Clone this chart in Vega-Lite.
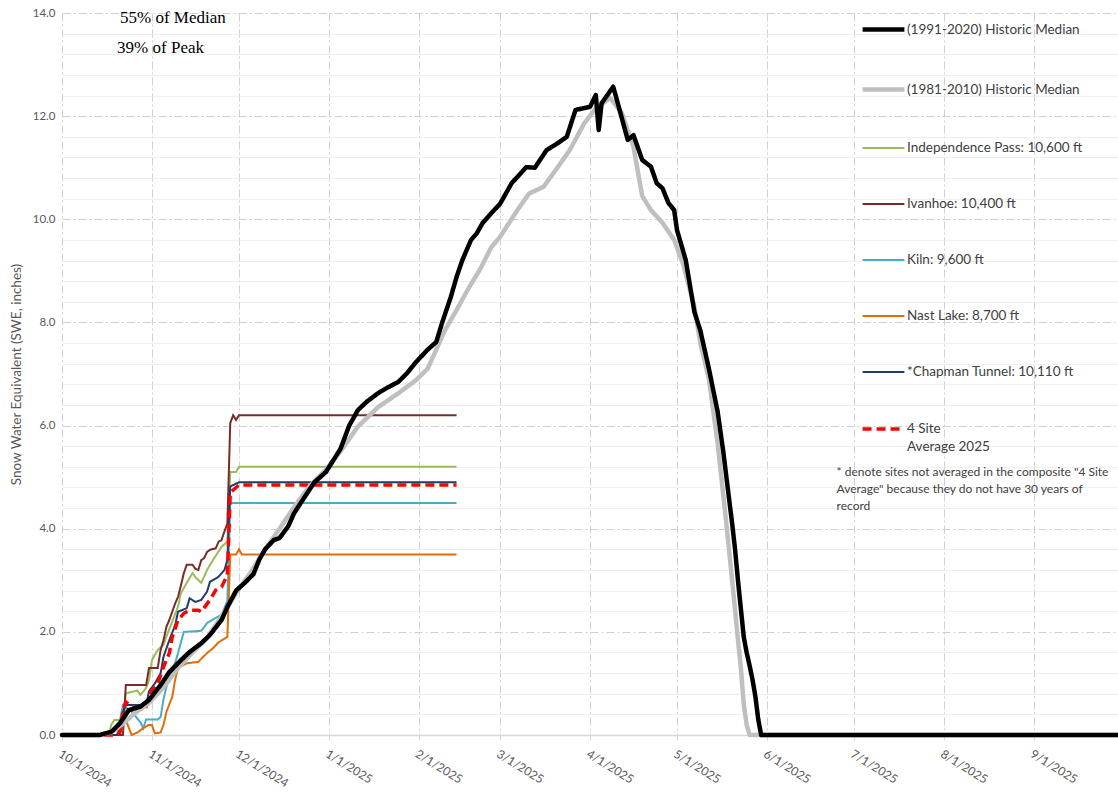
{
  "$schema": "https://vega.github.io/schema/vega-lite/v6.json",
  "width": 1056,
  "height": 722,
  "autosize": {"type": "none"},
  "padding": {"left": 62, "top": 13, "right": 0, "bottom": 58},
  "background": "white",
  "config": {"view": {"stroke": null}, "font": "Lato"},
  "datasets": {
    "swe": [
      {"series": "(1991-2020) Historic Median", "date": "2024-10-01", "swe": 0},
      {"series": "(1991-2020) Historic Median", "date": "2024-10-14", "swe": 0},
      {"series": "(1991-2020) Historic Median", "date": "2024-10-18", "swe": 0.06},
      {"series": "(1991-2020) Historic Median", "date": "2024-10-21", "swe": 0.23},
      {"series": "(1991-2020) Historic Median", "date": "2024-10-24", "swe": 0.48},
      {"series": "(1991-2020) Historic Median", "date": "2024-10-28", "swe": 0.55},
      {"series": "(1991-2020) Historic Median", "date": "2024-10-31", "swe": 0.68},
      {"series": "(1991-2020) Historic Median", "date": "2024-11-04", "swe": 0.97},
      {"series": "(1991-2020) Historic Median", "date": "2024-11-07", "swe": 1.22},
      {"series": "(1991-2020) Historic Median", "date": "2024-11-11", "swe": 1.45},
      {"series": "(1991-2020) Historic Median", "date": "2024-11-14", "swe": 1.61},
      {"series": "(1991-2020) Historic Median", "date": "2024-11-18", "swe": 1.78},
      {"series": "(1991-2020) Historic Median", "date": "2024-11-21", "swe": 1.94},
      {"series": "(1991-2020) Historic Median", "date": "2024-11-25", "swe": 2.23},
      {"series": "(1991-2020) Historic Median", "date": "2024-11-27", "swe": 2.48},
      {"series": "(1991-2020) Historic Median", "date": "2024-11-30", "swe": 2.8},
      {"series": "(1991-2020) Historic Median", "date": "2024-12-03", "swe": 2.95},
      {"series": "(1991-2020) Historic Median", "date": "2024-12-06", "swe": 3.12},
      {"series": "(1991-2020) Historic Median", "date": "2024-12-08", "swe": 3.4},
      {"series": "(1991-2020) Historic Median", "date": "2024-12-10", "swe": 3.6},
      {"series": "(1991-2020) Historic Median", "date": "2024-12-13", "swe": 3.78},
      {"series": "(1991-2020) Historic Median", "date": "2024-12-15", "swe": 3.82},
      {"series": "(1991-2020) Historic Median", "date": "2024-12-18", "swe": 4.05},
      {"series": "(1991-2020) Historic Median", "date": "2024-12-20", "swe": 4.3},
      {"series": "(1991-2020) Historic Median", "date": "2024-12-23", "swe": 4.56},
      {"series": "(1991-2020) Historic Median", "date": "2024-12-27", "swe": 4.9},
      {"series": "(1991-2020) Historic Median", "date": "2024-12-31", "swe": 5.1},
      {"series": "(1991-2020) Historic Median", "date": "2025-01-05", "swe": 5.55},
      {"series": "(1991-2020) Historic Median", "date": "2025-01-08", "swe": 6.0},
      {"series": "(1991-2020) Historic Median", "date": "2025-01-11", "swe": 6.3},
      {"series": "(1991-2020) Historic Median", "date": "2025-01-14", "swe": 6.46},
      {"series": "(1991-2020) Historic Median", "date": "2025-01-18", "swe": 6.63},
      {"series": "(1991-2020) Historic Median", "date": "2025-01-21", "swe": 6.73},
      {"series": "(1991-2020) Historic Median", "date": "2025-01-25", "swe": 6.85},
      {"series": "(1991-2020) Historic Median", "date": "2025-01-28", "swe": 7.02},
      {"series": "(1991-2020) Historic Median", "date": "2025-01-31", "swe": 7.23},
      {"series": "(1991-2020) Historic Median", "date": "2025-02-04", "swe": 7.47},
      {"series": "(1991-2020) Historic Median", "date": "2025-02-07", "swe": 7.62},
      {"series": "(1991-2020) Historic Median", "date": "2025-02-09", "swe": 7.99},
      {"series": "(1991-2020) Historic Median", "date": "2025-02-12", "swe": 8.49},
      {"series": "(1991-2020) Historic Median", "date": "2025-02-14", "swe": 8.88},
      {"series": "(1991-2020) Historic Median", "date": "2025-02-16", "swe": 9.21},
      {"series": "(1991-2020) Historic Median", "date": "2025-02-19", "swe": 9.6},
      {"series": "(1991-2020) Historic Median", "date": "2025-02-21", "swe": 9.73},
      {"series": "(1991-2020) Historic Median", "date": "2025-02-23", "swe": 9.93},
      {"series": "(1991-2020) Historic Median", "date": "2025-02-26", "swe": 10.12},
      {"series": "(1991-2020) Historic Median", "date": "2025-03-01", "swe": 10.3},
      {"series": "(1991-2020) Historic Median", "date": "2025-03-05", "swe": 10.7},
      {"series": "(1991-2020) Historic Median", "date": "2025-03-10", "swe": 11.01},
      {"series": "(1991-2020) Historic Median", "date": "2025-03-13", "swe": 11.0},
      {"series": "(1991-2020) Historic Median", "date": "2025-03-17", "swe": 11.34},
      {"series": "(1991-2020) Historic Median", "date": "2025-03-21", "swe": 11.48},
      {"series": "(1991-2020) Historic Median", "date": "2025-03-24", "swe": 11.6},
      {"series": "(1991-2020) Historic Median", "date": "2025-03-27", "swe": 12.12},
      {"series": "(1991-2020) Historic Median", "date": "2025-04-01", "swe": 12.18},
      {"series": "(1991-2020) Historic Median", "date": "2025-04-03", "swe": 12.41},
      {"series": "(1991-2020) Historic Median", "date": "2025-04-04", "swe": 11.73},
      {"series": "(1991-2020) Historic Median", "date": "2025-04-05", "swe": 12.25},
      {"series": "(1991-2020) Historic Median", "date": "2025-04-09", "swe": 12.57},
      {"series": "(1991-2020) Historic Median", "date": "2025-04-10", "swe": 12.37},
      {"series": "(1991-2020) Historic Median", "date": "2025-04-14", "swe": 11.54},
      {"series": "(1991-2020) Historic Median", "date": "2025-04-16", "swe": 11.63},
      {"series": "(1991-2020) Historic Median", "date": "2025-04-19", "swe": 11.15},
      {"series": "(1991-2020) Historic Median", "date": "2025-04-22", "swe": 11.02},
      {"series": "(1991-2020) Historic Median", "date": "2025-04-24", "swe": 10.7},
      {"series": "(1991-2020) Historic Median", "date": "2025-04-26", "swe": 10.6},
      {"series": "(1991-2020) Historic Median", "date": "2025-04-28", "swe": 10.32},
      {"series": "(1991-2020) Historic Median", "date": "2025-04-30", "swe": 10.18},
      {"series": "(1991-2020) Historic Median", "date": "2025-05-01", "swe": 9.79},
      {"series": "(1991-2020) Historic Median", "date": "2025-05-04", "swe": 9.21},
      {"series": "(1991-2020) Historic Median", "date": "2025-05-07", "swe": 8.2},
      {"series": "(1991-2020) Historic Median", "date": "2025-05-09", "swe": 7.85},
      {"series": "(1991-2020) Historic Median", "date": "2025-05-12", "swe": 7.1},
      {"series": "(1991-2020) Historic Median", "date": "2025-05-15", "swe": 6.27},
      {"series": "(1991-2020) Historic Median", "date": "2025-05-17", "swe": 5.47},
      {"series": "(1991-2020) Historic Median", "date": "2025-05-19", "swe": 4.55},
      {"series": "(1991-2020) Historic Median", "date": "2025-05-20", "swe": 4.1},
      {"series": "(1991-2020) Historic Median", "date": "2025-05-21", "swe": 3.6},
      {"series": "(1991-2020) Historic Median", "date": "2025-05-22", "swe": 3.0},
      {"series": "(1991-2020) Historic Median", "date": "2025-05-23", "swe": 2.45},
      {"series": "(1991-2020) Historic Median", "date": "2025-05-24", "swe": 1.9},
      {"series": "(1991-2020) Historic Median", "date": "2025-05-25", "swe": 1.6},
      {"series": "(1991-2020) Historic Median", "date": "2025-05-26", "swe": 1.35},
      {"series": "(1991-2020) Historic Median", "date": "2025-05-27", "swe": 1.08},
      {"series": "(1991-2020) Historic Median", "date": "2025-05-28", "swe": 0.75},
      {"series": "(1991-2020) Historic Median", "date": "2025-05-29", "swe": 0.3},
      {"series": "(1991-2020) Historic Median", "date": "2025-05-30", "swe": 0},
      {"series": "(1991-2020) Historic Median", "date": "2025-09-30", "swe": 0},

      {"series": "(1981-2010) Historic Median", "date": "2024-10-01", "swe": 0},
      {"series": "(1981-2010) Historic Median", "date": "2024-10-14", "swe": 0},
      {"series": "(1981-2010) Historic Median", "date": "2024-10-18", "swe": 0.05},
      {"series": "(1981-2010) Historic Median", "date": "2024-10-22", "swe": 0.22},
      {"series": "(1981-2010) Historic Median", "date": "2024-10-26", "swe": 0.42},
      {"series": "(1981-2010) Historic Median", "date": "2024-10-31", "swe": 0.62},
      {"series": "(1981-2010) Historic Median", "date": "2024-11-05", "swe": 0.92},
      {"series": "(1981-2010) Historic Median", "date": "2024-11-10", "swe": 1.3},
      {"series": "(1981-2010) Historic Median", "date": "2024-11-15", "swe": 1.6},
      {"series": "(1981-2010) Historic Median", "date": "2024-11-20", "swe": 1.88},
      {"series": "(1981-2010) Historic Median", "date": "2024-11-25", "swe": 2.3},
      {"series": "(1981-2010) Historic Median", "date": "2024-11-30", "swe": 2.75},
      {"series": "(1981-2010) Historic Median", "date": "2024-12-05", "swe": 3.15},
      {"series": "(1981-2010) Historic Median", "date": "2024-12-10", "swe": 3.6},
      {"series": "(1981-2010) Historic Median", "date": "2024-12-15", "swe": 4.0},
      {"series": "(1981-2010) Historic Median", "date": "2024-12-20", "swe": 4.42},
      {"series": "(1981-2010) Historic Median", "date": "2024-12-25", "swe": 4.8},
      {"series": "(1981-2010) Historic Median", "date": "2024-12-31", "swe": 5.15},
      {"series": "(1981-2010) Historic Median", "date": "2025-01-05", "swe": 5.5},
      {"series": "(1981-2010) Historic Median", "date": "2025-01-11", "swe": 5.98},
      {"series": "(1981-2010) Historic Median", "date": "2025-01-18", "swe": 6.36},
      {"series": "(1981-2010) Historic Median", "date": "2025-01-25", "swe": 6.63},
      {"series": "(1981-2010) Historic Median", "date": "2025-01-31", "swe": 6.88},
      {"series": "(1981-2010) Historic Median", "date": "2025-02-04", "swe": 7.1},
      {"series": "(1981-2010) Historic Median", "date": "2025-02-07", "swe": 7.47},
      {"series": "(1981-2010) Historic Median", "date": "2025-02-10", "swe": 7.85},
      {"series": "(1981-2010) Historic Median", "date": "2025-02-14", "swe": 8.24},
      {"series": "(1981-2010) Historic Median", "date": "2025-02-18", "swe": 8.65},
      {"series": "(1981-2010) Historic Median", "date": "2025-02-22", "swe": 9.02},
      {"series": "(1981-2010) Historic Median", "date": "2025-02-26", "swe": 9.46},
      {"series": "(1981-2010) Historic Median", "date": "2025-03-01", "swe": 9.66},
      {"series": "(1981-2010) Historic Median", "date": "2025-03-07", "swe": 10.18},
      {"series": "(1981-2010) Historic Median", "date": "2025-03-11", "swe": 10.5},
      {"series": "(1981-2010) Historic Median", "date": "2025-03-16", "swe": 10.63},
      {"series": "(1981-2010) Historic Median", "date": "2025-03-21", "swe": 11.02},
      {"series": "(1981-2010) Historic Median", "date": "2025-03-25", "swe": 11.34},
      {"series": "(1981-2010) Historic Median", "date": "2025-03-30", "swe": 11.86},
      {"series": "(1981-2010) Historic Median", "date": "2025-04-03", "swe": 12.15},
      {"series": "(1981-2010) Historic Median", "date": "2025-04-08", "swe": 12.35},
      {"series": "(1981-2010) Historic Median", "date": "2025-04-12", "swe": 12.06},
      {"series": "(1981-2010) Historic Median", "date": "2025-04-16", "swe": 11.4},
      {"series": "(1981-2010) Historic Median", "date": "2025-04-19", "swe": 10.45},
      {"series": "(1981-2010) Historic Median", "date": "2025-04-22", "swe": 10.18},
      {"series": "(1981-2010) Historic Median", "date": "2025-04-26", "swe": 9.93},
      {"series": "(1981-2010) Historic Median", "date": "2025-04-30", "swe": 9.6},
      {"series": "(1981-2010) Historic Median", "date": "2025-05-03", "swe": 9.15},
      {"series": "(1981-2010) Historic Median", "date": "2025-05-07", "swe": 8.3},
      {"series": "(1981-2010) Historic Median", "date": "2025-05-09", "swe": 7.6},
      {"series": "(1981-2010) Historic Median", "date": "2025-05-12", "swe": 6.9},
      {"series": "(1981-2010) Historic Median", "date": "2025-05-15", "swe": 5.65},
      {"series": "(1981-2010) Historic Median", "date": "2025-05-18", "swe": 4.1},
      {"series": "(1981-2010) Historic Median", "date": "2025-05-20", "swe": 3.0},
      {"series": "(1981-2010) Historic Median", "date": "2025-05-22", "swe": 1.85},
      {"series": "(1981-2010) Historic Median", "date": "2025-05-23", "swe": 1.3},
      {"series": "(1981-2010) Historic Median", "date": "2025-05-24", "swe": 0.6},
      {"series": "(1981-2010) Historic Median", "date": "2025-05-25", "swe": 0.2},
      {"series": "(1981-2010) Historic Median", "date": "2025-05-26", "swe": 0},
      {"series": "(1981-2010) Historic Median", "date": "2025-09-30", "swe": 0},

      {"series": "Independence Pass: 10,600 ft", "date": "2024-10-01", "swe": 0},
      {"series": "Independence Pass: 10,600 ft", "date": "2024-10-17", "swe": 0},
      {"series": "Independence Pass: 10,600 ft", "date": "2024-10-18", "swe": 0.2},
      {"series": "Independence Pass: 10,600 ft", "date": "2024-10-19", "swe": 0.29},
      {"series": "Independence Pass: 10,600 ft", "date": "2024-10-21", "swe": 0.29},
      {"series": "Independence Pass: 10,600 ft", "date": "2024-10-22", "swe": 0.2},
      {"series": "Independence Pass: 10,600 ft", "date": "2024-10-23", "swe": 0.81},
      {"series": "Independence Pass: 10,600 ft", "date": "2024-10-27", "swe": 0.86},
      {"series": "Independence Pass: 10,600 ft", "date": "2024-10-28", "swe": 0.78},
      {"series": "Independence Pass: 10,600 ft", "date": "2024-10-30", "swe": 0.91},
      {"series": "Independence Pass: 10,600 ft", "date": "2024-10-31", "swe": 1.07},
      {"series": "Independence Pass: 10,600 ft", "date": "2024-11-01", "swe": 1.45},
      {"series": "Independence Pass: 10,600 ft", "date": "2024-11-03", "swe": 1.65},
      {"series": "Independence Pass: 10,600 ft", "date": "2024-11-05", "swe": 1.75},
      {"series": "Independence Pass: 10,600 ft", "date": "2024-11-06", "swe": 1.91},
      {"series": "Independence Pass: 10,600 ft", "date": "2024-11-08", "swe": 2.2},
      {"series": "Independence Pass: 10,600 ft", "date": "2024-11-10", "swe": 2.49},
      {"series": "Independence Pass: 10,600 ft", "date": "2024-11-11", "swe": 2.75},
      {"series": "Independence Pass: 10,600 ft", "date": "2024-11-13", "swe": 2.95},
      {"series": "Independence Pass: 10,600 ft", "date": "2024-11-15", "swe": 3.14},
      {"series": "Independence Pass: 10,600 ft", "date": "2024-11-16", "swe": 3.06},
      {"series": "Independence Pass: 10,600 ft", "date": "2024-11-18", "swe": 2.95},
      {"series": "Independence Pass: 10,600 ft", "date": "2024-11-20", "swe": 3.2},
      {"series": "Independence Pass: 10,600 ft", "date": "2024-11-22", "swe": 3.39},
      {"series": "Independence Pass: 10,600 ft", "date": "2024-11-25", "swe": 3.65},
      {"series": "Independence Pass: 10,600 ft", "date": "2024-11-27", "swe": 3.75},
      {"series": "Independence Pass: 10,600 ft", "date": "2024-11-28", "swe": 5.1},
      {"series": "Independence Pass: 10,600 ft", "date": "2024-11-30", "swe": 5.1},
      {"series": "Independence Pass: 10,600 ft", "date": "2024-12-01", "swe": 5.2},
      {"series": "Independence Pass: 10,600 ft", "date": "2025-02-14", "swe": 5.2},

      {"series": "Ivanhoe: 10,400 ft", "date": "2024-10-01", "swe": 0},
      {"series": "Ivanhoe: 10,400 ft", "date": "2024-10-22", "swe": 0},
      {"series": "Ivanhoe: 10,400 ft", "date": "2024-10-23", "swe": 0.97},
      {"series": "Ivanhoe: 10,400 ft", "date": "2024-10-30", "swe": 0.97},
      {"series": "Ivanhoe: 10,400 ft", "date": "2024-10-31", "swe": 1.3},
      {"series": "Ivanhoe: 10,400 ft", "date": "2024-11-03", "swe": 1.3},
      {"series": "Ivanhoe: 10,400 ft", "date": "2024-11-04", "swe": 1.65},
      {"series": "Ivanhoe: 10,400 ft", "date": "2024-11-05", "swe": 1.84},
      {"series": "Ivanhoe: 10,400 ft", "date": "2024-11-06", "swe": 2.1},
      {"series": "Ivanhoe: 10,400 ft", "date": "2024-11-07", "swe": 2.23},
      {"series": "Ivanhoe: 10,400 ft", "date": "2024-11-08", "swe": 2.39},
      {"series": "Ivanhoe: 10,400 ft", "date": "2024-11-09", "swe": 2.55},
      {"series": "Ivanhoe: 10,400 ft", "date": "2024-11-10", "swe": 2.68},
      {"series": "Ivanhoe: 10,400 ft", "date": "2024-11-11", "swe": 2.9},
      {"series": "Ivanhoe: 10,400 ft", "date": "2024-11-12", "swe": 3.14},
      {"series": "Ivanhoe: 10,400 ft", "date": "2024-11-13", "swe": 3.3},
      {"series": "Ivanhoe: 10,400 ft", "date": "2024-11-15", "swe": 3.3},
      {"series": "Ivanhoe: 10,400 ft", "date": "2024-11-16", "swe": 3.22},
      {"series": "Ivanhoe: 10,400 ft", "date": "2024-11-17", "swe": 3.2},
      {"series": "Ivanhoe: 10,400 ft", "date": "2024-11-18", "swe": 3.39},
      {"series": "Ivanhoe: 10,400 ft", "date": "2024-11-19", "swe": 3.43},
      {"series": "Ivanhoe: 10,400 ft", "date": "2024-11-20", "swe": 3.55},
      {"series": "Ivanhoe: 10,400 ft", "date": "2024-11-21", "swe": 3.59},
      {"series": "Ivanhoe: 10,400 ft", "date": "2024-11-23", "swe": 3.62},
      {"series": "Ivanhoe: 10,400 ft", "date": "2024-11-24", "swe": 3.75},
      {"series": "Ivanhoe: 10,400 ft", "date": "2024-11-25", "swe": 3.78},
      {"series": "Ivanhoe: 10,400 ft", "date": "2024-11-26", "swe": 3.95},
      {"series": "Ivanhoe: 10,400 ft", "date": "2024-11-27", "swe": 4.1},
      {"series": "Ivanhoe: 10,400 ft", "date": "2024-11-28", "swe": 6.05},
      {"series": "Ivanhoe: 10,400 ft", "date": "2024-11-29", "swe": 6.2},
      {"series": "Ivanhoe: 10,400 ft", "date": "2024-11-30", "swe": 6.11},
      {"series": "Ivanhoe: 10,400 ft", "date": "2024-12-01", "swe": 6.2},
      {"series": "Ivanhoe: 10,400 ft", "date": "2025-02-14", "swe": 6.2},

      {"series": "Kiln: 9,600 ft", "date": "2024-10-01", "swe": 0},
      {"series": "Kiln: 9,600 ft", "date": "2024-10-20", "swe": 0},
      {"series": "Kiln: 9,600 ft", "date": "2024-10-22", "swe": 0.58},
      {"series": "Kiln: 9,600 ft", "date": "2024-10-25", "swe": 0.45},
      {"series": "Kiln: 9,600 ft", "date": "2024-10-28", "swe": 0.25},
      {"series": "Kiln: 9,600 ft", "date": "2024-10-29", "swe": 0.13},
      {"series": "Kiln: 9,600 ft", "date": "2024-10-30", "swe": 0.3},
      {"series": "Kiln: 9,600 ft", "date": "2024-11-03", "swe": 0.3},
      {"series": "Kiln: 9,600 ft", "date": "2024-11-04", "swe": 0.35},
      {"series": "Kiln: 9,600 ft", "date": "2024-11-05", "swe": 0.7},
      {"series": "Kiln: 9,600 ft", "date": "2024-11-06", "swe": 0.93},
      {"series": "Kiln: 9,600 ft", "date": "2024-11-07", "swe": 1.16},
      {"series": "Kiln: 9,600 ft", "date": "2024-11-09", "swe": 1.4},
      {"series": "Kiln: 9,600 ft", "date": "2024-11-10", "swe": 1.59},
      {"series": "Kiln: 9,600 ft", "date": "2024-11-11", "swe": 1.8},
      {"series": "Kiln: 9,600 ft", "date": "2024-11-12", "swe": 2.0},
      {"series": "Kiln: 9,600 ft", "date": "2024-11-18", "swe": 2.02},
      {"series": "Kiln: 9,600 ft", "date": "2024-11-20", "swe": 2.17},
      {"series": "Kiln: 9,600 ft", "date": "2024-11-23", "swe": 2.27},
      {"series": "Kiln: 9,600 ft", "date": "2024-11-25", "swe": 2.33},
      {"series": "Kiln: 9,600 ft", "date": "2024-11-27", "swe": 2.6},
      {"series": "Kiln: 9,600 ft", "date": "2024-11-28", "swe": 4.5},
      {"series": "Kiln: 9,600 ft", "date": "2025-02-14", "swe": 4.5},

      {"series": "Nast Lake: 8,700 ft", "date": "2024-10-01", "swe": 0},
      {"series": "Nast Lake: 8,700 ft", "date": "2024-10-20", "swe": 0},
      {"series": "Nast Lake: 8,700 ft", "date": "2024-10-23", "swe": 0.29},
      {"series": "Nast Lake: 8,700 ft", "date": "2024-10-25", "swe": 0},
      {"series": "Nast Lake: 8,700 ft", "date": "2024-10-27", "swe": 0.05},
      {"series": "Nast Lake: 8,700 ft", "date": "2024-10-29", "swe": 0.13},
      {"series": "Nast Lake: 8,700 ft", "date": "2024-10-31", "swe": 0.2},
      {"series": "Nast Lake: 8,700 ft", "date": "2024-11-01", "swe": 0.19},
      {"series": "Nast Lake: 8,700 ft", "date": "2024-11-02", "swe": 0.03},
      {"series": "Nast Lake: 8,700 ft", "date": "2024-11-04", "swe": 0.05},
      {"series": "Nast Lake: 8,700 ft", "date": "2024-11-05", "swe": 0.2},
      {"series": "Nast Lake: 8,700 ft", "date": "2024-11-06", "swe": 0.45},
      {"series": "Nast Lake: 8,700 ft", "date": "2024-11-08", "swe": 0.74},
      {"series": "Nast Lake: 8,700 ft", "date": "2024-11-09", "swe": 1.07},
      {"series": "Nast Lake: 8,700 ft", "date": "2024-11-10", "swe": 1.3},
      {"series": "Nast Lake: 8,700 ft", "date": "2024-11-13", "swe": 1.39},
      {"series": "Nast Lake: 8,700 ft", "date": "2024-11-17", "swe": 1.42},
      {"series": "Nast Lake: 8,700 ft", "date": "2024-11-20", "swe": 1.59},
      {"series": "Nast Lake: 8,700 ft", "date": "2024-11-22", "swe": 1.68},
      {"series": "Nast Lake: 8,700 ft", "date": "2024-11-24", "swe": 1.8},
      {"series": "Nast Lake: 8,700 ft", "date": "2024-11-27", "swe": 1.9},
      {"series": "Nast Lake: 8,700 ft", "date": "2024-11-28", "swe": 3.5},
      {"series": "Nast Lake: 8,700 ft", "date": "2024-11-30", "swe": 3.5},
      {"series": "Nast Lake: 8,700 ft", "date": "2024-12-01", "swe": 3.6},
      {"series": "Nast Lake: 8,700 ft", "date": "2024-12-02", "swe": 3.5},
      {"series": "Nast Lake: 8,700 ft", "date": "2025-02-14", "swe": 3.5},

      {"series": "*Chapman Tunnel: 10,110 ft", "date": "2024-10-01", "swe": 0},
      {"series": "*Chapman Tunnel: 10,110 ft", "date": "2024-10-20", "swe": 0},
      {"series": "*Chapman Tunnel: 10,110 ft", "date": "2024-10-21", "swe": 0.1},
      {"series": "*Chapman Tunnel: 10,110 ft", "date": "2024-10-22", "swe": 0.45},
      {"series": "*Chapman Tunnel: 10,110 ft", "date": "2024-10-23", "swe": 0.58},
      {"series": "*Chapman Tunnel: 10,110 ft", "date": "2024-10-30", "swe": 0.58},
      {"series": "*Chapman Tunnel: 10,110 ft", "date": "2024-10-31", "swe": 0.85},
      {"series": "*Chapman Tunnel: 10,110 ft", "date": "2024-11-02", "swe": 1.0},
      {"series": "*Chapman Tunnel: 10,110 ft", "date": "2024-11-04", "swe": 1.2},
      {"series": "*Chapman Tunnel: 10,110 ft", "date": "2024-11-05", "swe": 1.52},
      {"series": "*Chapman Tunnel: 10,110 ft", "date": "2024-11-07", "swe": 1.84},
      {"series": "*Chapman Tunnel: 10,110 ft", "date": "2024-11-09", "swe": 2.13},
      {"series": "*Chapman Tunnel: 10,110 ft", "date": "2024-11-10", "swe": 2.39},
      {"series": "*Chapman Tunnel: 10,110 ft", "date": "2024-11-13", "swe": 2.46},
      {"series": "*Chapman Tunnel: 10,110 ft", "date": "2024-11-14", "swe": 2.65},
      {"series": "*Chapman Tunnel: 10,110 ft", "date": "2024-11-16", "swe": 2.58},
      {"series": "*Chapman Tunnel: 10,110 ft", "date": "2024-11-18", "swe": 2.62},
      {"series": "*Chapman Tunnel: 10,110 ft", "date": "2024-11-20", "swe": 2.78},
      {"series": "*Chapman Tunnel: 10,110 ft", "date": "2024-11-21", "swe": 2.97},
      {"series": "*Chapman Tunnel: 10,110 ft", "date": "2024-11-24", "swe": 3.07},
      {"series": "*Chapman Tunnel: 10,110 ft", "date": "2024-11-26", "swe": 3.2},
      {"series": "*Chapman Tunnel: 10,110 ft", "date": "2024-11-27", "swe": 3.39},
      {"series": "*Chapman Tunnel: 10,110 ft", "date": "2024-11-28", "swe": 4.82},
      {"series": "*Chapman Tunnel: 10,110 ft", "date": "2024-12-01", "swe": 4.9},
      {"series": "*Chapman Tunnel: 10,110 ft", "date": "2025-02-14", "swe": 4.9},

      {"series": "4 Site Average 2025", "date": "2024-10-01", "swe": 0},
      {"series": "4 Site Average 2025", "date": "2024-10-20", "swe": 0},
      {"series": "4 Site Average 2025", "date": "2024-10-21", "swe": 0.05},
      {"series": "4 Site Average 2025", "date": "2024-10-22", "swe": 0.45},
      {"series": "4 Site Average 2025", "date": "2024-10-23", "swe": 0.64},
      {"series": "4 Site Average 2025", "date": "2024-10-25", "swe": 0.55},
      {"series": "4 Site Average 2025", "date": "2024-10-28", "swe": 0.5},
      {"series": "4 Site Average 2025", "date": "2024-10-30", "swe": 0.55},
      {"series": "4 Site Average 2025", "date": "2024-10-31", "swe": 0.7},
      {"series": "4 Site Average 2025", "date": "2024-11-01", "swe": 0.87},
      {"series": "4 Site Average 2025", "date": "2024-11-03", "swe": 1.0},
      {"series": "4 Site Average 2025", "date": "2024-11-05", "swe": 1.32},
      {"series": "4 Site Average 2025", "date": "2024-11-07", "swe": 1.59},
      {"series": "4 Site Average 2025", "date": "2024-11-08", "swe": 1.9},
      {"series": "4 Site Average 2025", "date": "2024-11-10", "swe": 2.23},
      {"series": "4 Site Average 2025", "date": "2024-11-12", "swe": 2.36},
      {"series": "4 Site Average 2025", "date": "2024-11-14", "swe": 2.42},
      {"series": "4 Site Average 2025", "date": "2024-11-17", "swe": 2.42},
      {"series": "4 Site Average 2025", "date": "2024-11-18", "swe": 2.39},
      {"series": "4 Site Average 2025", "date": "2024-11-21", "swe": 2.62},
      {"series": "4 Site Average 2025", "date": "2024-11-23", "swe": 2.81},
      {"series": "4 Site Average 2025", "date": "2024-11-25", "swe": 2.87},
      {"series": "4 Site Average 2025", "date": "2024-11-27", "swe": 3.1},
      {"series": "4 Site Average 2025", "date": "2024-11-28", "swe": 4.7},
      {"series": "4 Site Average 2025", "date": "2024-11-30", "swe": 4.8},
      {"series": "4 Site Average 2025", "date": "2024-12-01", "swe": 4.85},
      {"series": "4 Site Average 2025", "date": "2025-02-14", "swe": 4.85}
    ],
    "notes": [
      {"kind": "pct", "date": "2024-10-21", "swe": 13.9, "label": "55% of Median"},
      {"kind": "pct", "date": "2024-10-20", "swe": 13.32, "label": "39%  of Peak"},
      {"kind": "foot", "date": "2025-06-25", "swe": 5.19, "label": "* denote sites not averaged in the composite \"4 Site|Average\" because they do not have 30 years of|record"}
    ]
  },
  "encoding": {
    "x": {
      "field": "date",
      "type": "temporal",
      "scale": {
        "type": "utc",
        "domain": [
          {"year": 2024, "month": 10, "date": 1, "utc": true},
          {"year": 2025, "month": 9, "date": 30, "utc": true}
        ],
        "nice": false
      },
      "axis": {
        "title": null,
        "values": [
          {"year": 2024, "month": 10, "date": 1, "utc": true},
          {"year": 2024, "month": 11, "date": 1, "utc": true},
          {"year": 2024, "month": 12, "date": 1, "utc": true},
          {"year": 2025, "month": 1, "date": 1, "utc": true},
          {"year": 2025, "month": 2, "date": 1, "utc": true},
          {"year": 2025, "month": 3, "date": 1, "utc": true},
          {"year": 2025, "month": 4, "date": 1, "utc": true},
          {"year": 2025, "month": 5, "date": 1, "utc": true},
          {"year": 2025, "month": 6, "date": 1, "utc": true},
          {"year": 2025, "month": 7, "date": 1, "utc": true},
          {"year": 2025, "month": 8, "date": 1, "utc": true},
          {"year": 2025, "month": 9, "date": 1, "utc": true}
        ],
        "format": "%-m/%-d/%Y",
        "labelAngle": 32,
        "labelAlign": "left",
        "labelBaseline": "top",
        "labelPadding": 8,
        "labelFont": "Lato",
        "labelFontSize": 12,
        "labelColor": "#595959",
        "labelOverlap": false,
        "labelFlush": false,
        "labelBound": false,
        "grid": true,
        "gridColor": "#d0d0d0",
        "gridDash": [8, 3, 2, 3],
        "gridWidth": 1,
        "domainColor": "#d9d9d9",
        "domainWidth": 1.5,
        "ticks": true,
        "tickColor": "#d9d9d9",
        "tickSize": 5
      }
    },
    "y": {
      "field": "swe",
      "type": "quantitative",
      "scale": {"domain": [0, 14], "nice": false, "zero": true},
      "axis": {
        "title": "Snow Water Equivalent (SWE, inches)",
        "titleFont": "Lato",
        "titleFontSize": 13.5,
        "titleFontWeight": "normal",
        "titleColor": "#595959",
        "titlePadding": 9,
        "values": [0, 0.4, 0.8, 1.2, 1.6, 2, 2.4, 2.8, 3.2, 3.6, 4, 4.4, 4.8, 5.2, 5.6, 6, 6.4, 6.8, 7.2, 7.6, 8, 8.4, 8.8, 9.2, 9.6, 10, 10.4, 10.8, 11.2, 11.6, 12, 12.4, 12.8, 13.2, 13.6, 14],
        "labelExpr": "datum.value % 2 === 0 ? format(datum.value, '.1f') : ''",
        "labelFont": "Lato",
        "labelFontSize": 11.5,
        "labelColor": "#595959",
        "labelPadding": 7,
        "labelOverlap": false,
        "labelFlush": false,
        "domain": false,
        "ticks": false,
        "grid": true,
        "gridColor": {"condition": {"test": "datum.value % 2 === 0", "value": "#d0d0d0"}, "value": "#ebebeb"},
        "gridDash": {"condition": {"test": "datum.value % 2 === 0", "value": [8, 3, 2, 3]}, "value": [1, 0]},
        "gridWidth": 1
      }
    }
  },
  "layer": [
    {
      "data": {"name": "swe"},
      "encoding": {
        "color": {
          "field": "series",
          "type": "nominal",
          "scale": {
            "domain": ["(1991-2020) Historic Median", "(1981-2010) Historic Median", "Independence Pass: 10,600 ft", "Ivanhoe: 10,400 ft", "Kiln: 9,600 ft", "Nast Lake: 8,700 ft", "*Chapman Tunnel: 10,110 ft", "4 Site Average 2025"],
            "range": ["#000000", "#bfbfbf", "#9bbb59", "#772c2a", "#4bacc6", "#e46c0a", "#1f3d6b", "#ff0000"]
          },
          "legend": {
            "title": null,
            "orient": "none",
            "legendX": 798,
            "legendY": -7,
            "symbolType": "stroke",
            "symbolSize": 1750,
            "rowPadding": 27,
            "padding": 0,
            "labelFont": "Lato",
            "labelFontSize": 13.5,
            "labelColor": "#404040",
            "labelOffset": 0,
            "labelLimit": 320,
            "labelExpr": "datum.label === '4 Site Average 2025' ? ['4 Site', 'Average 2025'] : datum.label",
            "encode": {"labels": {"update": {"lineHeight": {"value": 18}}}}
          }
        },
        "strokeWidth": {
          "field": "series",
          "type": "nominal",
          "scale": {
            "type": "ordinal",
            "domain": ["(1991-2020) Historic Median", "(1981-2010) Historic Median", "Independence Pass: 10,600 ft", "Ivanhoe: 10,400 ft", "Kiln: 9,600 ft", "Nast Lake: 8,700 ft", "*Chapman Tunnel: 10,110 ft", "4 Site Average 2025"],
            "range": [4.5, 4.5, 2, 2, 2, 2, 2, 3.5]
          },
          "legend": {"title": null}
        },
        "strokeDash": {
          "field": "series",
          "type": "nominal",
          "scale": {
            "domain": ["(1991-2020) Historic Median", "(1981-2010) Historic Median", "Independence Pass: 10,600 ft", "Ivanhoe: 10,400 ft", "Kiln: 9,600 ft", "Nast Lake: 8,700 ft", "*Chapman Tunnel: 10,110 ft", "4 Site Average 2025"],
            "range": [[1, 0], [1, 0], [1, 0], [1, 0], [1, 0], [1, 0], [1, 0], [9, 5]]
          },
          "legend": {"title": null}
        }
      },
      "layer": [
        {
          "transform": [{"filter": "datum.series !== '(1991-2020) Historic Median' && datum.series !== '(1981-2010) Historic Median' && datum.series !== '4 Site Average 2025'"}],
          "mark": {"type": "line"}
        },
        {
          "transform": [{"filter": "datum.series === '4 Site Average 2025'"}],
          "mark": {"type": "line"}
        },
        {
          "transform": [{"filter": "datum.series === '(1981-2010) Historic Median'"}],
          "mark": {"type": "line", "strokeJoin": "round", "strokeCap": "round"}
        },
        {
          "transform": [{"filter": "datum.series === '(1991-2020) Historic Median'"}],
          "mark": {"type": "line", "strokeJoin": "round", "strokeCap": "round"}
        }
      ]
    },
    {
      "data": {"name": "notes"},
      "transform": [{"filter": "datum.kind === 'pct'"}],
      "mark": {"type": "text", "font": "Liberation Serif", "fontSize": 17, "align": "left", "baseline": "middle", "color": "#000000"},
      "encoding": {"text": {"field": "label", "type": "nominal"}}
    },
    {
      "data": {"name": "notes"},
      "transform": [{"filter": "datum.kind === 'foot'"}],
      "mark": {"type": "text", "font": "Lato", "fontSize": 12, "align": "left", "baseline": "top", "lineBreak": "|", "lineHeight": 17, "color": "#404040"},
      "encoding": {"text": {"field": "label", "type": "nominal"}}
    }
  ]
}
